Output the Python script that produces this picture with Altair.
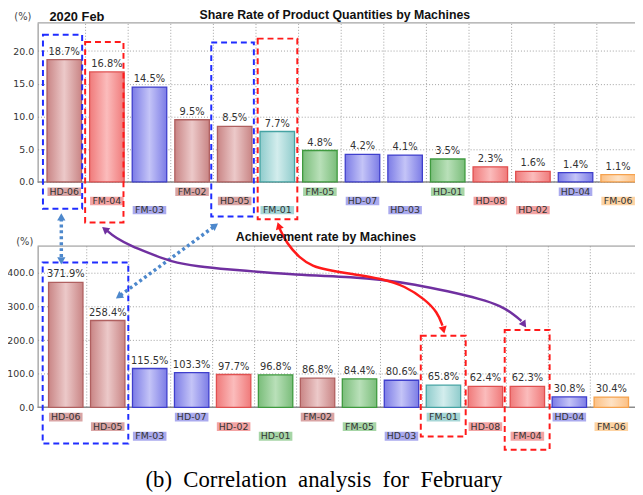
import altair as alt
import pandas as pd

# ---------------- data ----------------
TOP_TITLE = "Share Rate of Product Quantities by Machines"
BOTTOM_TITLE = "Achievement rate by Machines"
PERIOD = "2020 Feb"
UNIT = "(%)"
CAPTION_WORDS = ["(b)", "Correlation", "analysis", "for", "February"]

TOP_MACHINES = ["HD-06", "FM-04", "FM-03", "FM-02", "HD-05", "FM-01", "FM-05",
                "HD-07", "HD-03", "HD-01", "HD-08", "HD-02", "HD-04", "FM-06"]
TOP_SHARE = [18.7, 16.8, 14.5, 9.5, 8.5, 7.7, 4.8, 4.2, 4.1, 3.5, 2.3, 1.6, 1.4, 1.1]

BOTTOM_MACHINES = ["HD-06", "HD-05", "FM-03", "HD-07", "HD-02", "HD-01", "FM-02",
                   "FM-05", "HD-03", "FM-01", "HD-08", "FM-04", "HD-04", "FM-06"]
BOTTOM_RATE = [371.9, 258.4, 115.5, 103.3, 97.7, 96.8, 86.8, 84.4, 80.6, 65.8, 62.4, 62.3, 30.8, 30.4]

TOP_TICKS = [0, 5, 10, 15, 20]
BOTTOM_TICKS = [0, 100, 200, 300, 400]

MACHINE_GROUP = {"HD-06": "brown", "FM-02": "brown", "HD-05": "brown",
                 "FM-04": "red", "HD-08": "red", "HD-02": "red",
                 "FM-03": "blue", "HD-07": "blue", "HD-03": "blue", "HD-04": "blue",
                 "FM-01": "teal", "FM-05": "green", "HD-01": "green", "FM-06": "orange"}

# highlight boxes (category index units, value units of each panel)
TOP_BOX_X0 = [-0.5, 0.49, 3.45, 4.54]
TOP_BOX_X1 = [0.42, 1.39, 4.45, 5.47]
TOP_BOX_Y0 = [-4.1, -6.2, -5.3, -5.7]
TOP_BOX_Y1 = [22.5, 21.4, 21.3, 21.9]
TOP_BOX_KIND = ["blue", "red", "blue", "red"]

BOT_BOX_X0 = [-0.55, 8.46, 10.46]
BOT_BOX_X1 = [1.49, 9.53, 11.53]
BOT_BOX_Y0 = [-108, -87, -126]
BOT_BOX_Y1 = [431, 213, 230]
BOT_BOX_KIND = ["blue", "red", "red"]

# connecting arrows (bottom-panel units: category index, achievement value)
ARROW_V_X = [-0.106, -0.106]
ARROW_V_Y = [562, 445]
ARROW_D_X = [1.30, 3.52]
ARROW_D_Y = [333, 537]
ARROW_P_X = [0.976, 1.188, 1.565, 1.965, 2.506, 3.141, 3.918, 4.718, 5.494, 6.2, 6.741,
             7.541, 8.318, 9.094, 9.894, 10.365, 10.671, 10.859]
ARROW_P_Y = [527, 504, 480, 460, 433, 419, 410, 402, 395, 391, 388, 380, 366, 346, 322,
             302, 277, 257]
ARROW_R_X = [5.094, 5.259, 5.565, 5.894, 6.2, 6.741, 7.541, 8.082, 8.553, 8.859, 8.976]
ARROW_R_Y = [533, 489, 445, 419, 410, 398, 383, 361, 322, 283, 243]
HEAD_X = [-0.106, -0.106, 3.56, 1.264, 0.932, 10.922, 5.075, 9.002]
HEAD_Y = [567, 436, 541, 330, 530, 246, 541, 230]
HEAD_ANGLE = [0, 180, 54, 234, 309, 145, 342, 166]
HEAD_KIND = ["blue", "blue", "blue", "blue", "purple", "purple", "red", "red"]

# ---------------- styles ----------------
GROUP_STYLE = {
    "brown": dict(edge="#c98585", mid="#ecc9c9", stroke="#b06060", tag="#d9a4a4"),
    "red": dict(edge="#f07a7a", mid="#fbbcbc", stroke="#e05050", tag="#f3a3a3"),
    "blue": dict(edge="#7c7ce6", mid="#c4c4f7", stroke="#3f3fcc", tag="#aaaaee"),
    "teal": dict(edge="#8fcccc", mid="#d3eded", stroke="#45a3a3", tag="#a6d6d6"),
    "green": dict(edge="#7abd7a", mid="#b9e0b9", stroke="#3f9a3f", tag="#a6d5a6"),
    "orange": dict(edge="#fcc084", mid="#fee2c4", stroke="#f5a24e", tag="#fdd3a3"),
}
LINE_COLORS = {"blue": "#1f2cff", "red": "#ff1a1a", "purple": "#7030a0", "dotblue": "#4d88cc"}
HEAD_COLORS = {"blue": "#4d88cc", "purple": "#7030a0", "red": "#ff1a1a"}

W, H = 605, 475
PANELS = {
    "top": dict(x_range=[5.4, 609.5], y_domain=[0, 24.3], y_range=[161, 0],
                row_range=[171, 189.6], half=0.405, tag_half=0.394, ticks=TOP_TICKS),
    "bottom": dict(x_range=[7.25, 602.25], y_domain=[0, 480], y_range=[389.3, 226],
                   row_range=[399.3, 418.6], half=0.41, tag_half=0.40, ticks=BOTTOM_TICKS),
}
FONT = "DejaVu Sans"


def X(field, p):
    return alt.X(f"{field}:Q", axis=None,
                 scale=alt.Scale(domain=[-0.5, 13.5], range=PANELS[p]["x_range"], nice=False, zero=False))


def Y(field, p, axis=None):
    return alt.Y(f"{field}:Q", axis=axis,
                 scale=alt.Scale(domain=PANELS[p]["y_domain"], range=PANELS[p]["y_range"],
                                 nice=False, zero=False))


def R(field, p):
    return alt.Y(f"{field}:Q", axis=None,
                 scale=alt.Scale(domain=[0, 2], range=PANELS[p]["row_range"], nice=False, zero=False))


def panel_df(machines, values, p):
    g = PANELS[p]
    rows = []
    for i, (m, v) in enumerate(zip(machines, values)):
        rows.append(dict(idx=i, machine=m, value=v, group=MACHINE_GROUP[m], row=i % 3,
                         label=f"{v:.1f}%", base=0,
                         x0=i - g["half"], x1=i + g["half"],
                         t0=i - g["tag_half"], t1=i + g["tag_half"],
                         r0=i % 3 - 0.46, r1=i % 3 + 0.46))
    return pd.DataFrame(rows)


def panel_layers(machines, values, p, box_x0, box_x1, box_y0, box_y1, box_kind):
    g = PANELS[p]
    df = panel_df(machines, values, p)
    layers = []
    grid = pd.DataFrame({"gx": [i + 0.5 for i in range(len(machines) - 1)],
                         "g0": g["y_domain"][0], "g1": g["y_domain"][1]})
    layers.append(alt.Chart(grid).mark_rule(color="#a0a0a0", strokeDash=[1, 2], strokeWidth=1)
                  .encode(x=X("gx", p), y=Y("g0", p), y2="g1:Q"))
    frame = pd.DataFrame({"yf": [g["y_domain"][1]]})
    axis = alt.Axis(values=g["ticks"], format=".1f", orient="left", grid=True,
                    gridDash=[1, 2], gridColor="#a0a0a0", domainColor="#808080",
                    ticks=False, labelFont=FONT, labelFontSize=9.5, labelColor="#333333",
                    labelPadding=4, title=None)
    layers.append(alt.Chart(frame).mark_rule(color="#8c8c8c", strokeWidth=1)
                  .encode(y=Y("yf", p, axis=axis)))
    base = pd.DataFrame({"yb": [g["y_domain"][0]]})
    layers.append(alt.Chart(base).mark_rule(color="#8c8c8c", strokeWidth=1.5)
                  .encode(y=Y("yb", p)))
    for grp, st in GROUP_STYLE.items():
        grad = alt.Gradient(gradient="linear", x1=0, x2=1, y1=0, y2=0,
                            stops=[alt.GradientStop(color=st["edge"], offset=0),
                                   alt.GradientStop(color=st["mid"], offset=0.5),
                                   alt.GradientStop(color=st["edge"], offset=1)])
        layers.append(alt.Chart(df).transform_filter(alt.datum.group == grp)
                      .mark_bar(fill=grad, stroke=st["stroke"], strokeWidth=1.3)
                      .encode(x=X("x0", p), x2="x1:Q", y=Y("value", p), y2="base:Q"))
    layers.append(alt.Chart(df).mark_text(baseline="bottom", dy=-3, font=FONT, fontSize=10,
                                          color="#333333")
                  .encode(x=X("idx", p), y=Y("value", p), text="label:N"))
    layers.append(alt.Chart(df).mark_rect()
                  .encode(x=X("t0", p), x2="t1:Q", y=R("r0", p), y2="r1:Q",
                          fill=alt.Fill("group:N", legend=None,
                                        scale=alt.Scale(domain=list(GROUP_STYLE),
                                                        range=[s["tag"] for s in GROUP_STYLE.values()]))))
    layers.append(alt.Chart(df).mark_text(baseline="middle", font=FONT, fontSize=9.5,
                                          color="#333333")
                  .encode(x=X("idx", p), y=R("row", p), text="machine:N"))
    boxes = pd.DataFrame({"bx0": box_x0, "bx1": box_x1, "by0": box_y0, "by1": box_y1,
                          "kind": box_kind})
    for kind in ["blue", "red"]:
        layers.append(alt.Chart(boxes).transform_filter(alt.datum.kind == kind)
                      .mark_rect(fillOpacity=0, stroke=LINE_COLORS[kind], strokeWidth=2,
                                 strokeDash=[6, 4])
                      .encode(x=X("bx0", p), x2="bx1:Q", y=Y("by0", p), y2="by1:Q"))
    return layers


layers = []
layers += panel_layers(TOP_MACHINES, TOP_SHARE, "top",
                       TOP_BOX_X0, TOP_BOX_X1, TOP_BOX_Y0, TOP_BOX_Y1, TOP_BOX_KIND)
layers += panel_layers(BOTTOM_MACHINES, BOTTOM_RATE, "bottom",
                       BOT_BOX_X0, BOT_BOX_X1, BOT_BOX_Y0, BOT_BOX_Y1, BOT_BOX_KIND)


def arrow_line(xs, ys, color, width, dash=None, interp="linear"):
    d = pd.DataFrame({"ax": xs, "ay": ys, "o": list(range(len(xs)))})
    kw = dict(color=color, strokeWidth=width, interpolate=interp)
    if dash:
        kw["strokeDash"] = dash
    return alt.Chart(d).mark_line(**kw).encode(x=X("ax", "bottom"), y=Y("ay", "bottom"),
                                                order="o:Q")


layers.append(arrow_line(ARROW_V_X, ARROW_V_Y, LINE_COLORS["dotblue"], 3.5, [3, 3]))
layers.append(arrow_line(ARROW_D_X, ARROW_D_Y, LINE_COLORS["dotblue"], 3.5, [3, 3]))
layers.append(arrow_line(ARROW_P_X, ARROW_P_Y, LINE_COLORS["purple"], 2.5, interp="basis"))
layers.append(arrow_line(ARROW_R_X, ARROW_R_Y, LINE_COLORS["red"], 2.5, interp="basis"))

heads = pd.DataFrame({"hx": HEAD_X, "hy": HEAD_Y, "ang": HEAD_ANGLE, "kind": HEAD_KIND})
for kind, col in HEAD_COLORS.items():
    layers.append(alt.Chart(heads).transform_filter(alt.datum.kind == kind)
                  .mark_point(shape="triangle-up", filled=True, size=70, color=col, opacity=1)
                  .encode(x=X("hx", "bottom"), y=Y("hy", "bottom"),
                          angle=alt.Angle("ang:Q", scale=None)))


def text_layer(txt, x, y, **kw):
    return alt.Chart(pd.DataFrame({"t": [txt]})).mark_text(**kw).encode(
        x=alt.value(x), y=alt.value(y), text="t:N")


CAPTION = "\u00a0 ".join(CAPTION_WORDS)

layers.append(text_layer(TOP_TITLE, 301, -8, font="Liberation Sans", fontSize=12.5,
                         fontWeight="bold", color="#111111", align="center", baseline="middle"))
layers.append(text_layer(BOTTOM_TITLE, 292, 217, font="Liberation Sans", fontSize=12.5,
                         fontWeight="bold", color="#111111", align="center", baseline="middle"))
layers.append(text_layer(PERIOD, 12, -6, font="Liberation Sans", fontSize=13,
                         fontWeight="bold", color="#111111", align="left", baseline="middle"))
layers.append(text_layer(UNIT, -15, -6, font=FONT, fontSize=10, color="#444444",
                         align="center", baseline="middle"))
layers.append(text_layer(UNIT, -13, 222, font=FONT, fontSize=10, color="#444444",
                         align="center", baseline="middle"))
layers.append(text_layer(CAPTION, 290, 463, font="Liberation Serif", fontSize=23,
                         color="#000000", align="center", baseline="middle"))

chart = alt.layer(*layers).resolve_scale(x="independent", y="independent").properties(
    width=W, height=H,
    autosize=alt.AutoSizeParams(type="none"),
    padding={"left": 30, "top": 12, "right": 0, "bottom": 0},
).configure_view(stroke=None)

chart.save("out.html", embed_options={"renderer": "svg", "actions": False})
